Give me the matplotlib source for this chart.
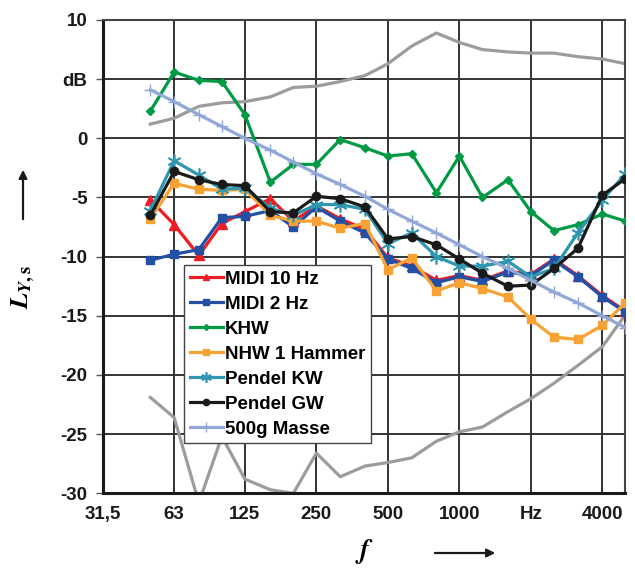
import matplotlib.pyplot as plt
from matplotlib.patches import FancyArrowPatch
from matplotlib.ticker import FixedLocator, NullLocator

# ==== Terzbänder und Messwerte (dB) ====
freqs = [50, 63, 80, 100, 125, 160, 200, 250, 315, 400, 500, 630, 800,
         1000, 1250, 1600, 2000, 2500, 3150, 4000, 5000]

midi_10hz = [-5.2, -7.3, -9.9, -7.2, -6.2, -5.1, -7.0, -5.7, -6.8, -7.7, -10.1,
             -10.8, -12.0, -11.6, -12.0, -11.2, -11.5, -10.2, -11.6, -13.3, -14.6]
midi_2hz = [-10.3, -9.8, -9.4, -6.7, -6.6, -6.1, -7.5, -5.8, -7.0, -8.0, -10.2,
            -11.0, -12.2, -11.7, -12.1, -11.3, -11.6, -10.3, -11.7, -13.4, -14.7]
khw = [2.3, 5.6, 4.9, 4.8, 2.0, -3.7, -2.2, -2.2, -0.1, -0.8, -1.5,
       -1.3, -4.6, -1.5, -5.0, -3.5, -6.2, -7.8, -7.3, -6.4, -7.0]
nhw_1_hammer = [-6.8, -3.8, -4.3, -4.4, -4.3, -6.5, -7.0, -7.0, -7.6, -7.2, -11.1,
                -10.1, -12.9, -12.2, -12.7, -13.4, -15.3, -16.8, -17.0, -15.8, -13.9]
pendel_kw = [-6.1, -1.9, -3.1, -4.3, -4.2, -5.9, -6.5, -5.6, -5.6, -6.0, -8.9,
             -8.0, -10.0, -10.8, -10.8, -10.4, -11.7, -11.0, -8.0, -5.2, -3.0]
pendel_gw = [-6.5, -2.8, -3.5, -3.9, -4.0, -6.2, -6.3, -4.9, -5.1, -5.8, -8.5,
             -8.3, -9.0, -10.2, -11.4, -12.5, -12.4, -11.0, -9.3, -4.8, -3.4]
masse_500g = [4.1, 3.1, 2.0, 1.0, 0.0, -1.0, -2.0, -3.0, -3.9, -4.9, -6.0,
              -7.0, -8.0, -9.0, -10.0, -11.0, -12.0, -13.0, -13.9, -15.0, -16.0]

# Grenzkurven (grau, ohne Legende)
grenze_oben = [1.2, 1.7, 2.7, 3.0, 3.1, 3.5, 4.3, 4.4, 4.8, 5.3, 6.3,
               7.8, 8.9, 8.1, 7.5, 7.3, 7.2, 7.2, 6.9, 6.7, 6.3]
grenze_unten = [-21.9, -23.6, -30.8, -25.2, -28.8, -29.7, -30.0, -26.6, -28.6, -27.7, -27.4,
                -27.0, -25.6, -24.8, -24.4, -23.1, -22.0, -20.7, -19.2, -17.6, -14.9]

x_ticks = [31.5, 63, 125, 250, 500, 1000, 2000, 4000]
x_labels = ["31,5", "63", "125", "250", "500", "1000", "Hz", "4000"]
y_ticks = [-30, -25, -20, -15, -10, -5, 0, 5, 10]
y_labels = ["-30", "-25", "-20", "-15", "-10", "-5", "0", "dB", "10"]

plt.rcParams["font.family"] = ["Liberation Sans", "DejaVu Sans"]
plt.rcParams["font.weight"] = "bold"
plt.rcParams["mathtext.fontset"] = "stix"

fig = plt.figure(figsize=(6.35, 5.68), dpi=100)
ax = fig.add_axes([0.1617, 0.1315, 0.8233, 0.8333])

grau = "#9c9c9c"
ax.plot(freqs, grenze_oben, color=grau, lw=2.3, zorder=2)
ax.plot(freqs, grenze_unten, color=grau, lw=2.3, zorder=2)

serien = [
    ("MIDI 10 Hz", midi_10hz, "#ee1c25", "^", 6.5, 1.0),
    ("MIDI 2 Hz", midi_2hz, "#2350a5", "s", 6.0, 1.0),
    ("KHW", khw, "#009a44", "D", 4.0, 1.0),
    ("NHW 1 Hammer", nhw_1_hammer, "#f8a233", "s", 5.5, 1.0),
    ("Pendel KW", pendel_kw, "#2e96ae", (6, 2, 0), 10, 1.2),
    ("Pendel GW", pendel_gw, "#1a1a1a", "o", 6.0, 1.0),
    ("500g Masse", masse_500g, "#91a8d6", "+", 9, 1.0),
]
for i, (name, werte, farbe, marker, ms, mew) in enumerate(serien):
    ax.plot(freqs, werte, color=farbe, lw=2.3, marker=marker, ms=ms,
            mew=mew, mec=farbe, label=name, zorder=3 + i)

ax.set_xscale("log")
ax.set_xlim(31.5, 5000)
ax.set_ylim(-30, 10)
ax.xaxis.set_major_locator(FixedLocator(x_ticks))
ax.xaxis.set_minor_locator(NullLocator())
ax.set_xticklabels(x_labels)
ax.set_yticks(y_ticks)
ax.set_yticklabels(y_labels)
ax.tick_params(axis="both", labelsize=13.5, colors="#1a1a1a")
ax.tick_params(axis="x", length=0, pad=9)
ax.tick_params(axis="y", length=5, width=1, color="#555555", pad=6)

ax.grid(True, color="#333333", lw=1.4, zorder=0)
ax.set_axisbelow(True)
for side in ["top", "right"]:
    ax.spines[side].set_color("#444444")
    ax.spines[side].set_linewidth(1.5)
for side in ["left", "bottom"]:
    ax.spines[side].set_color("#1a1a1a")
    ax.spines[side].set_linewidth(2.2)

leg = ax.legend(loc="upper left", bbox_to_anchor=(0.1555, 0.4824),
                borderaxespad=0, fontsize=13.5, handlelength=1.8,
                handletextpad=0.1, labelspacing=0.42, borderpad=0.3,
                markerscale=0.75, fancybox=False, framealpha=1,
                edgecolor="#444444")
leg.get_frame().set_linewidth(1.0)
leg.set_zorder(20)

# Achsenbeschriftungen mit Pfeilen
fig.text(23 / 635, 1 - 287 / 568, r"$L_{Y,\mathrm{s}}$", rotation=90,
         fontsize=19, ha="center", va="center")
fig.text(365 / 635, 1 - 552 / 568, r"$f$", fontsize=20, ha="center", va="center")
for start, ende in [((23, 222), (23, 167)), ((432, 553), (498, 553))]:
    fig.patches.append(FancyArrowPatch(
        (start[0] / 635, 1 - start[1] / 568), (ende[0] / 635, 1 - ende[1] / 568),
        transform=fig.transFigure, arrowstyle="-|>", mutation_scale=12,
        lw=1.6, color="#1a1a1a"))

fig.savefig("out.png", dpi=100)
